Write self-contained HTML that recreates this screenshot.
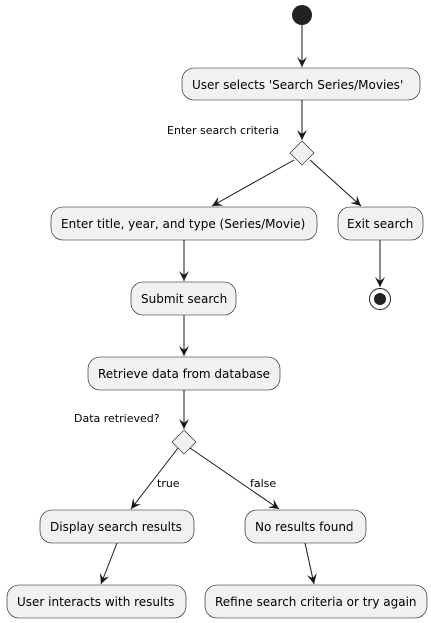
<!DOCTYPE html>
<html><head><style>body{margin:0;background:#fff}svg{display:block}text{font-family:"DejaVu Sans","Liberation Sans",sans-serif;font-size:12px;fill:#000}text.l{font-size:11px}</style></head>
<body>
<svg width="431" height="623" viewBox="0 0 431 623">
<defs><marker id="a" markerWidth="12" markerHeight="12" refX="10" refY="5" orient="auto" markerUnits="userSpaceOnUse"><path d="M0,0 L10,5 L0,10 L4,5 Z" fill="#181818"/></marker></defs>
<g fill="#F1F1F1" stroke="#181818" stroke-width="0.6">
<rect x="182" y="68" width="238" height="32" rx="12"/>
<rect x="51" y="207" width="266" height="33" rx="12"/>
<rect x="338" y="207" width="85" height="33" rx="12"/>
<rect x="131" y="282" width="105" height="33" rx="12"/>
<rect x="88" y="357" width="192" height="33" rx="12"/>
<rect x="40" y="510" width="154" height="33" rx="12"/>
<rect x="245" y="510" width="121" height="33" rx="12"/>
<rect x="7" y="585" width="179" height="33" rx="12"/>
<rect x="205" y="585" width="222" height="33" rx="12"/>
<path d="M302,141 L314,153 L302,165 L290,153 Z"/>
<path d="M184,430 L196,442 L184,454 L172,442 Z"/>
</g>
<circle cx="302" cy="15" r="10" fill="#222"/>
<circle cx="380" cy="299" r="10.5" fill="none" stroke="#222" stroke-width="1"/>
<circle cx="380" cy="299" r="6" fill="#222"/>
<g stroke="#181818" stroke-width="1" marker-end="url(#a)" fill="none">
<line x1="302" y1="25" x2="302" y2="67"/>
<line x1="302" y1="100" x2="302" y2="140"/>
<line x1="294" y1="160" x2="212" y2="206"/>
<line x1="310" y1="160" x2="361" y2="206"/>
<line x1="380" y1="240" x2="380" y2="287"/>
<line x1="184" y1="240" x2="184" y2="281"/>
<line x1="184" y1="315" x2="184" y2="356"/>
<line x1="184" y1="390" x2="184" y2="429"/>
<line x1="178" y1="448" x2="131" y2="509"/>
<line x1="190" y1="448" x2="279" y2="509"/>
<line x1="117" y1="543" x2="101" y2="584"/>
<line x1="305" y1="543" x2="314" y2="584"/>
</g>
<text x="192" y="89">User selects 'Search Series/Movies'</text>
<text class="l" x="167" y="134">Enter search criteria</text>
<text x="61" y="228">Enter title, year, and type (Series/Movie)</text>
<text x="347" y="228">Exit search</text>
<text x="141" y="303">Submit search</text>
<text x="98" y="378">Retrieve data from database</text>
<text class="l" x="74" y="422">Data retrieved?</text>
<text class="l" x="157" y="487">true</text>
<text class="l" x="250" y="487">false</text>
<text x="50" y="531">Display search results</text>
<text x="255" y="531">No results found</text>
<text x="17" y="606">User interacts with results</text>
<text x="215" y="606">Refine search criteria or try again</text>
</svg>
</body></html>
